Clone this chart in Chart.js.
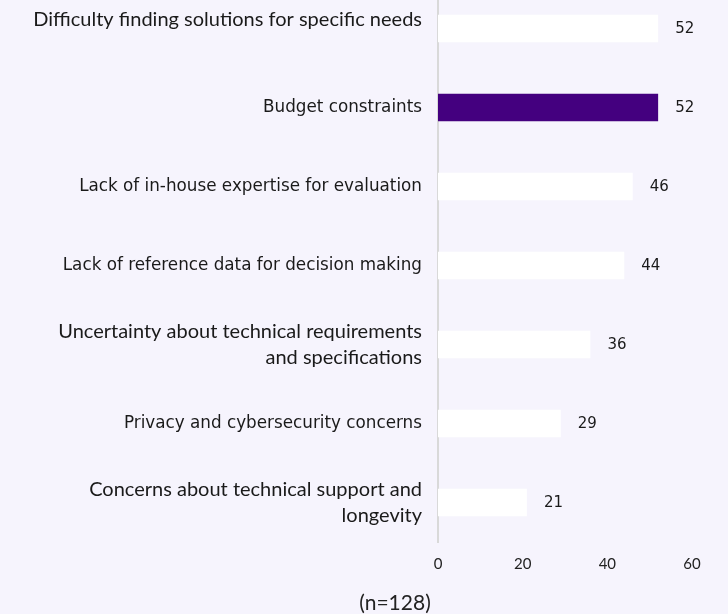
<!DOCTYPE html>
<html>
<head>
<meta charset="utf-8">
<script src="https://cdn.jsdelivr.net/npm/chart.js@4.4.1/dist/chart.umd.min.js"></script>
<style>
  html, body { margin: 0; padding: 0; background: #F6F4FD; }
  #wrap { width: 728px; height: 614px; overflow: hidden; position: relative; }
  #chart { position: absolute; left: 0; top: -11px; }
</style>
</head>
<body>
<div id="wrap"><canvas id="chart" width="728" height="625"></canvas></div>
<script>
// Barriers to adoption (n=128)
const categories = [
  ['Difficulty finding solutions for specific needs', ''],
  'Budget constraints',
  'Lack of in-house expertise for evaluation',
  'Lack of reference data for decision making',
  ['Uncertainty about technical requirements', 'and specifications'],
  'Privacy and cybersecurity concerns',
  ['Concerns about technical support and', 'longevity']
];
const values = [52, 52, 46, 44, 36, 29, 21];
const xTicks = [0, 20, 40, 60];
const sampleNote = '(n=128)';

// fonts used by the original labels differ from row to row
const gothic = { family: '"DejaVu Sans", sans-serif', size: 16.8 };
const calibriLike = { family: 'Lato, sans-serif', size: 20, lineHeight: 1.3 };
const firstRow = { family: 'Lato, sans-serif', size: 20, lineHeight: 0.9 };
const rowFont = [firstRow, gothic, gothic, gothic, calibriLike, gothic, calibriLike];

// value labels right of the bars + the sample size note under the axis
const annotations = {
  id: 'annotations',
  afterDatasetsDraw(chart) {
    const ctx = chart.ctx;
    const meta = chart.getDatasetMeta(0);
    ctx.save();
    ctx.font = '15px "DejaVu Sans", sans-serif';
    ctx.fillStyle = '#1a1a1a';
    ctx.textAlign = 'left';
    ctx.textBaseline = 'middle';
    meta.data.forEach((bar, i) => {
      ctx.fillText(String(values[i]), bar.x + 17, bar.y + 1);
    });
    ctx.font = '21px Lato, sans-serif';
    ctx.fillStyle = '#222';
    ctx.textAlign = 'center';
    ctx.fillText(sampleNote, chart.chartArea.left - 43, chart.chartArea.bottom + 61);
    ctx.restore();
  }
};

new Chart(document.getElementById('chart'), {
  type: 'bar',
  data: {
    labels: categories,
    datasets: [{
      data: values,
      backgroundColor: ctx => ctx.dataIndex === 1 ? '#44007F' : '#FFFFFF',
      borderWidth: 0,
      barPercentage: 0.5,
      categoryPercentage: 0.7
    }]
  },
  options: {
    indexAxis: 'y',
    responsive: false,
    animation: false,
    layout: { padding: { left: 0, right: 36, top: 0, bottom: 28 } },
    plugins: {
      legend: { display: false },
      tooltip: { enabled: false },
      title: { display: false }
    },
    scales: {
      x: {
        min: 0,
        max: 60,
        afterBuildTicks: scale => { scale.ticks = xTicks.map(v => ({ value: v })); },
        afterFit: scale => { scale.paddingLeft = 0; scale.paddingRight = 0; },
        grid: { display: false, drawTicks: false },
        border: { display: false },
        ticks: {
          color: '#222',
          padding: 13,
          font: { family: 'Lato, sans-serif', size: 15 }
        }
      },
      y: {
        afterFit: scale => {
          scale.width = 438;
          scale.paddingTop = 0;
          scale.paddingBottom = 0;
        },
        grid: { display: false, drawTicks: false },
        border: { display: true, color: '#D9D9D9', width: 2 },
        ticks: {
          color: '#1a1a1a',
          padding: 16,
          font: ctx => rowFont[ctx.index] || gothic
        }
      }
    }
  },
  plugins: [annotations]
});
</script>
</body>
</html>
